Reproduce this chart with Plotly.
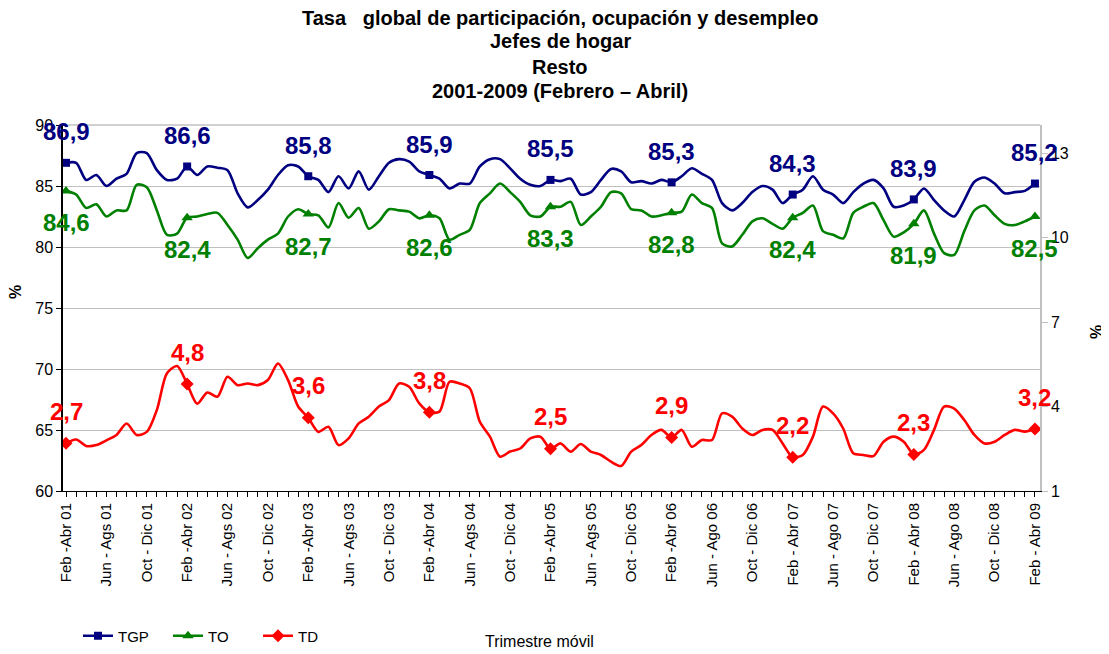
import plotly.graph_objects as go

title_lines = ["Tasa &nbsp; global de participación, ocupación y desempleo", "Jefes de hogar", "Resto",
               "2001-2009 (Febrero – Abril)"]

tick_labels = ["Feb -Abr 01", "Jun - Ags 01", "Oct - Dic 01", "Feb -Abr 02", "Jun - Ags 02", "Oct - Dic 02",
               "Feb -Abr 03", "Jun - Ags 03", "Oct - Dic 03", "Feb -Abr 04", "Jun - Ags 04", "Oct - Dic 04",
               "Feb -Abr 05", "Jun - Ags 05", "Oct - Dic 05", "Feb -Abr 06", "Jun - Ago 06", "Oct - Dic 06",
               "Feb - Abr 07", "Jun - Ago 07", "Oct - Dic 07", "Feb - Abr 08", "Jun - Ago 08", "Oct - Dic 08",
               "Feb - Abr 09"]

tgp = [86.9, 86.9, 85.5, 85.9, 85.0, 85.6, 86.0, 87.7, 87.7, 86.3, 85.5, 85.6,
       86.6, 85.9, 86.6, 86.5, 86.3, 84.4, 83.25, 83.85, 84.7, 85.9, 86.7, 86.6,
       85.8, 85.5, 84.5, 85.8, 84.8, 86.2, 84.7, 85.8, 86.9, 87.2, 87.0, 86.2,
       85.9, 85.6, 84.8, 85.2, 85.2, 86.6, 87.2, 87.2, 86.45, 85.6, 85.1, 85.0,
       85.5, 85.4, 85.6, 84.3, 84.5, 85.5, 86.4, 86.2, 85.3, 85.4, 85.2, 85.5,
       85.3, 85.8, 86.45, 86.0, 85.5, 83.6, 83.0, 83.6, 84.5, 85.0, 84.7, 83.6,
       84.3, 84.7, 85.8, 84.7, 84.3, 83.6, 84.5, 85.2, 85.5, 84.8, 83.3, 83.4,
       83.9, 84.8, 83.85, 83.0, 82.5, 83.85, 85.35, 85.7, 85.2, 84.4, 84.5, 84.6,
       85.2]

to = [84.6, 84.3, 83.2, 83.5, 82.5, 83.0, 83.0, 85.1, 84.9, 83.0, 81.0, 81.1,
      82.4, 82.5, 82.7, 82.8, 81.8, 80.6, 79.1, 79.9, 80.6, 81.1, 82.5, 83.1,
      82.7, 82.6, 81.6, 83.6, 82.4, 83.2, 81.5, 82.1, 83.1, 83.0, 82.9, 82.35,
      82.6, 82.35, 80.6, 81.0, 81.4, 83.6, 84.4, 85.2, 84.5, 83.7, 82.6, 82.5,
      83.3, 83.3, 83.7, 81.8, 82.5, 83.3, 84.5, 84.4, 83.1, 83.0, 82.5, 82.6,
      82.8, 82.9, 84.3, 83.6, 83.2, 80.3, 80.05, 81.0, 82.1, 82.35, 81.9, 81.5,
      82.4, 82.8, 83.4, 81.3, 81.0, 80.7, 82.8, 83.3, 83.6, 82.2, 80.85, 81.2,
      81.9, 83.0, 81.1, 79.5, 79.35, 81.3, 83.0, 83.4, 82.6, 81.9, 81.8, 82.1,
      82.5]

td = [2.7, 2.83, 2.6, 2.63, 2.8, 2.99, 3.4, 2.99, 3.1, 3.88, 5.18, 5.44,
      4.8, 4.1, 4.5, 4.35, 5.06, 4.76, 4.82, 4.76, 4.94, 5.53, 4.94, 4.0,
      3.6, 3.1, 3.28, 2.63, 2.87, 3.4, 3.64, 4.0, 4.23, 4.82, 4.7, 4.11,
      3.8, 3.82, 4.88, 4.82, 4.65, 3.46, 2.93, 2.22, 2.4, 2.51, 2.87, 2.93,
      2.5, 2.69, 2.4, 2.67, 2.4, 2.28, 2.04, 1.89, 2.4, 2.63, 2.99, 3.17,
      2.9, 3.17, 2.57, 2.81, 2.81, 3.76, 3.64, 3.22, 2.99, 3.17, 3.17, 2.69,
      2.2, 2.28, 2.93, 4.0, 3.76, 3.22, 2.34, 2.28, 2.24, 2.75, 2.93, 2.75,
      2.3, 2.46, 3.17, 4.0, 3.93, 3.52, 2.99, 2.69, 2.75, 2.99, 3.17, 3.11,
      3.2]

FONT = "Liberation Sans, Arial, sans-serif"
NAVY, GREEN, RED = "#000080", "#008000", "#FF0000"

x = list(range(len(tgp)))
lab_idx = list(range(0, len(tgp), 12))
tick_idx = list(range(0, len(tgp), 4))

fig = go.Figure()

series = [
    ("TGP", tgp, NAVY, "square", 8, "y", 31),
    ("TO", to, GREEN, "triangle-up", 10, "y", -32),
    ("TD", td, RED, "diamond", 10, "y2", 32),
]

for name, vals, col, sym, msz, yax, shift in series:
    fig.add_trace(go.Scatter(x=x, y=vals, mode="lines", yaxis=yax, showlegend=False,
                             line=dict(color=col, width=2.6, shape="spline", smoothing=0.8),
                             hoverinfo="skip"))
    fig.add_trace(go.Scatter(x=[x[i] for i in lab_idx], y=[vals[i] for i in lab_idx], mode="markers",
                             yaxis=yax, showlegend=False,
                             marker=dict(color=col, symbol=sym, size=msz)))
    fig.add_trace(go.Scatter(x=[None], y=[None], mode="lines+markers", name=name, yaxis=yax,
                             line=dict(color=col, width=2.6),
                             marker=dict(color=col, symbol=sym, size=msz)))
    for i in lab_idx:
        fig.add_annotation(x=x[i], y=vals[i], yref=yax, text=("%.1f" % vals[i]).replace(".", ","),
                           showarrow=False, yshift=shift,
                           font=dict(family=FONT, size=24, color=col, weight="bold"))

# plot area (window coords): x 63..1040, y 125..491 ; page has an 8px body offset
PX0, PX1, PY0, PY1 = 63, 1040, 125, 491
PW, PH = PX1 - PX0, PY1 - PY0


def px(v):
    return (v - PX0) / PW


def py(v):
    return (PY1 - v) / PH


for txt, yy in zip(title_lines, [18, 41, 67, 91]):
    fig.add_annotation(xref="paper", yref="paper", x=px(560), y=py(yy),
                       xanchor="center", yanchor="middle", text="<b>" + txt + "</b>", showarrow=False,
                       font=dict(family=FONT, size=20, color="black"))

fig.add_annotation(xref="paper", yref="paper", x=px(15), y=py(292), text="<b>%</b>",
                   textangle=-90, xanchor="center", yanchor="middle",
                   showarrow=False, font=dict(family=FONT, size=16, color="black"))
fig.add_annotation(xref="paper", yref="paper", x=px(1096), y=py(332), text="<b>%</b>",
                   textangle=-90, xanchor="center", yanchor="middle",
                   showarrow=False, font=dict(family=FONT, size=16, color="black"))
fig.add_annotation(xref="paper", yref="paper", x=px(539), y=py(641),
                   text="Trimestre móvil", xanchor="center", yanchor="middle",
                   showarrow=False, font=dict(family=FONT, size=16, color="black"))

W, H = 1101, 646
OFF = 8
fig.update_layout(
    width=W, height=H,
    paper_bgcolor="white", plot_bgcolor="white",
    margin=dict(l=PX0 - OFF, r=W - (PX1 - OFF), t=PY0 - OFF, b=H - (PY1 - OFF), autoexpand=False),
    font=dict(family=FONT, size=15, color="black"),
    showlegend=True,
    legend=dict(orientation="h", x=px(78), y=py(636), xanchor="left", yanchor="middle",
                font=dict(family=FONT, size=15, color="black"), bgcolor="rgba(0,0,0,0)",
                entrywidth=45, entrywidthmode="pixels"),
    xaxis=dict(range=[-0.3, 96.5], tickmode="array", tickvals=tick_idx, ticktext=tick_labels,
               tickangle=-90, showgrid=False, zeroline=False, showline=True, linecolor="black",
               linewidth=1, ticks="outside", ticklen=5, tickcolor="black", automargin=False,
               tickfont=dict(family=FONT, size=15, color="black"),
               minor=dict(tickmode="linear", tick0=0, dtick=1, ticks="outside", ticklen=5,
                          tickcolor="black", showgrid=False)),
    yaxis=dict(range=[60, 90], dtick=5, tick0=60, showgrid=True, gridcolor="#c0c0c0", gridwidth=1,
               zeroline=False, showline=True, linecolor="black", linewidth=1.5, ticks="outside",
               ticklen=5, tickcolor="black", automargin=False,
               tickfont=dict(family=FONT, size=16, color="black")),
    yaxis2=dict(range=[1, 14], tickmode="array", tickvals=[1, 4, 7, 10, 13], overlaying="y",
                side="right", showgrid=False, zeroline=False, showline=True, linecolor="#c0c0c0",
                linewidth=1.5, ticks="outside", ticklen=6, tickcolor="#c0c0c0", automargin=False,
                tickfont=dict(family=FONT, size=16, color="black")),
)

fig.add_shape(type="line", xref="paper", yref="paper", x0=0, x1=1, y0=1, y1=1,
              line=dict(color="#c0c0c0", width=1.5))

fig.write_html("out.html")
